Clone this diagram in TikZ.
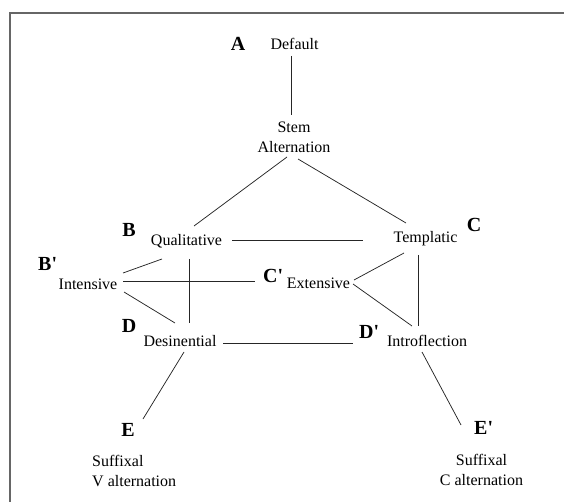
\documentclass[tikz,border=0pt]{standalone}
\usepackage{fontspec}
\newfontfamily\tnr{Liberation Serif}
\begin{document}
\begin{tikzpicture}[x=1pt,y=-1pt,
  txt/.style={font=\tnr\fontsize{16}{20}\selectfont, inner sep=0pt, anchor=base},
  lab/.style={font=\tnr\bfseries\fontsize{20}{24}\selectfont, inner sep=0pt, anchor=base},
  labw/.style={lab, anchor=base west},
  conn/.style={draw=black!85, line width=0.75pt},
  frame/.style={draw=black!60, line width=1.5pt}]
\useasboundingbox (0,0) rectangle (564,502);
\draw[frame] (10,502) -- (10,13) -- (564,13);

% text nodes
\node[txt] (def) at (294.5,50) {Default};
\node[txt, align=center] (stem) at (294,153) {Stem\\Alternation};
\node[txt] (qual) at (186.5,246) {Qualitative};
\node[txt] (templ) at (425.5,243) {Templatic};
\node[txt] (int) at (88,289) {Intensive};
\node[txt] (ext) at (318.5,288) {Extensive};
\node[txt] (des) at (180,346) {Desinential};
\node[txt] (intro) at (427,346) {Introflection};
\node[txt, align=left, anchor=base west] (sv) at (92,486) {Suffixal\\V alternation};
\node[txt, align=center] (sc) at (481.5,485) {Suffixal\\C alternation};

% letter labels
\node[lab] (la) at (238,51) {A};
\node[lab] (lb) at (129,237) {B};
\node[lab] (lc) at (474,232) {C};
\node[lab] (ld) at (129,332) {D};
\node[lab] (le) at (128,436) {E};
\node[labw] (lbp) at (38,270) {B'};
\node[labw] (lcp) at (263,283) {C'};
\node[labw] (ldp) at (359,338) {D'};
\node[labw] (lep) at (474,434) {E'};

% connectors
\draw[conn] ([shift={(-3.5,6)}]def.base) -- ([shift={(-3,-38)}]stem.base);
\draw[conn] ([shift={(-7,4)}]stem.base) -- ([shift={(7.5,-20)}]qual.base);
\draw[conn] ([shift={(4,6)}]stem.base) -- ([shift={(-19.5,-20)}]templ.base);
\draw[conn] ([shift={(45.5,-5.5)}]qual.base) -- ([shift={(-62.5,-2.5)}]templ.base);
\draw[conn] ([shift={(35,-16)}]int.base) -- ([shift={(-24.5,13)}]qual.base);
\draw[conn] ([shift={(35,-8)}]int.base) -- ([shift={(-63.5,-7)}]ext.base);
\draw[conn] ([shift={(36,3)}]int.base) -- ([shift={(-5,-23)}]des.base);
\draw[conn] ([shift={(2.5,13)}]qual.base) -- ([shift={(9,-23)}]des.base);
\draw[conn] ([shift={(35.5,-8)}]ext.base) -- ([shift={(-21.5,10)}]templ.base);
\draw[conn] ([shift={(34.5,-4)}]ext.base) -- ([shift={(-15,-20)}]intro.base);
\draw[conn] ([shift={(-7.5,12)}]templ.base) -- ([shift={(-9,-20)}]intro.base);
\draw[conn] ([shift={(43,-3)}]des.base) -- ([shift={(-74,-3)}]intro.base);
\draw[conn] ([shift={(4,6)}]des.base) -- ([shift={(15,-17)}]le.base);
\draw[conn] ([shift={(-5,6)}]intro.base) -- ([shift={(-13,-9)}]lep.base west);
\end{tikzpicture}
\end{document}
